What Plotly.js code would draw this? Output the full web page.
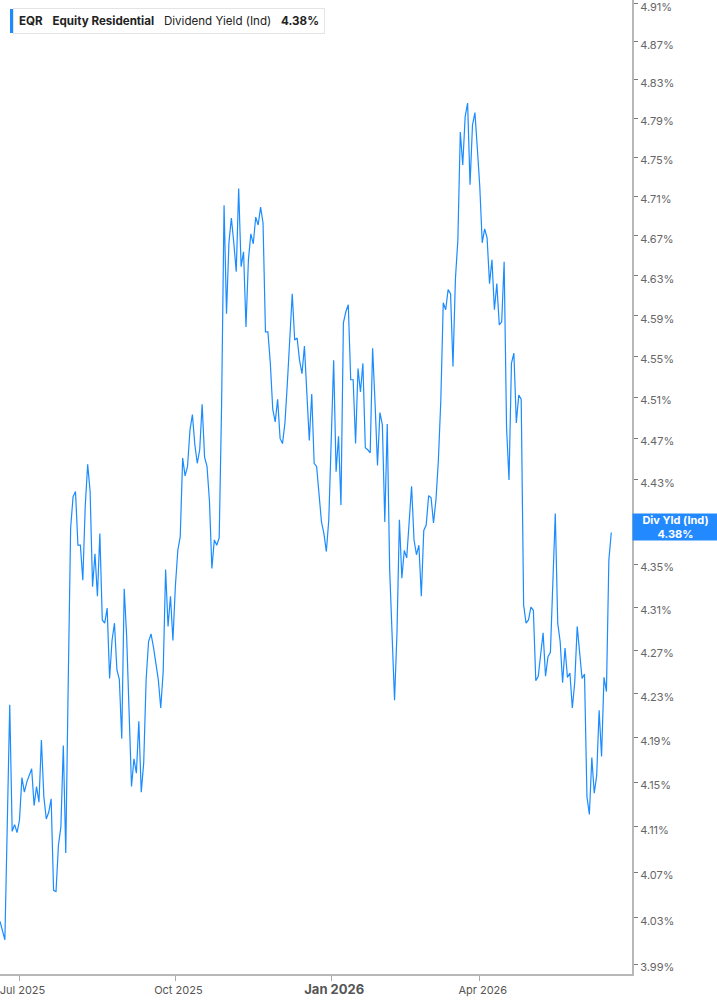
<!DOCTYPE html>
<html>
<head>
<meta charset="utf-8">
<script src="https://cdn.plot.ly/plotly-3.0.1.min.js"></script>
<style>html,body{margin:0;padding:0;background:#fff;}#chart{width:717px;height:1005px;}</style>
</head>
<body>
<div id="chart"></div>
<script>
// ---- data ----
const ticker = "EQR";
const companyName = "Equity Residential";
const seriesName = "Dividend Yield (Ind)";
const shortSeriesName = "Div Yld (Ind)";
const firstTradingDay = "2025-06-18";
const marketHolidays = ["2025-06-19","2025-07-04","2025-09-01","2025-11-27","2025-12-25",
  "2026-01-01","2026-01-19","2026-02-16","2026-04-03","2026-05-25","2026-06-19"];
const dividendYield = [
  4.027,4.019,4.011,4.114,4.220,4.106,4.112,4.105,4.116,4.154,
  4.141,4.150,4.156,4.162,4.129,4.146,4.132,4.188,4.137,4.117,
  4.123,4.135,4.054,4.053,4.094,4.110,4.183,4.087,4.238,4.384,
  4.414,4.419,4.368,4.368,4.335,4.405,4.445,4.419,4.329,4.360,
  4.320,4.379,4.298,4.295,4.309,4.244,4.279,4.295,4.252,4.243,
  4.189,4.327,4.283,4.212,4.146,4.171,4.158,4.205,4.141,4.167,
  4.243,4.278,4.285,4.273,4.258,4.243,4.217,4.250,4.345,4.292,
  4.320,4.279,4.329,4.363,4.376,4.451,4.434,4.443,4.478,4.493,
  4.464,4.446,4.459,4.503,4.452,4.443,4.410,4.346,4.373,4.368,
  4.375,4.504,4.701,4.592,4.663,4.688,4.663,4.634,4.718,4.639,
  4.654,4.579,4.646,4.672,4.662,4.689,4.681,4.699,4.683,4.574,
  4.574,4.543,4.498,4.486,4.508,4.470,4.465,4.485,4.524,4.569,
  4.612,4.566,4.568,4.546,4.533,4.560,4.510,4.468,4.513,4.446,
  4.443,4.417,4.390,4.379,4.362,4.392,4.462,4.546,4.438,4.472,
  4.406,4.583,4.594,4.601,4.527,4.527,4.465,4.538,4.515,4.543,
  4.461,4.459,4.456,4.558,4.504,4.444,4.495,4.483,4.390,4.484,
  4.345,4.292,4.224,4.286,4.392,4.337,4.363,4.356,4.392,4.424,
  4.373,4.359,4.368,4.320,4.382,4.387,4.415,4.413,4.389,4.411,
  4.449,4.507,4.603,4.596,4.616,4.612,4.540,4.627,4.666,4.776,
  4.742,4.792,4.806,4.722,4.783,4.796,4.759,4.720,4.663,4.677,
  4.668,4.622,4.646,4.596,4.622,4.581,4.584,4.644,4.480,4.430,
  4.543,4.553,4.485,4.512,4.508,4.312,4.295,4.298,4.310,4.307,
  4.242,4.246,4.266,4.286,4.246,4.264,4.268,4.326,4.398,4.295,
  4.278,4.240,4.272,4.245,4.249,4.217,4.241,4.292,4.270,4.244,
  4.248,4.137,4.121,4.172,4.140,4.156,4.215,4.173,4.245,4.232,
  4.354,4.380
];
// 4.39% sits under the last-value label in the reference, so it carries no text
const yTickValues = [4.91,4.87,4.83,4.79,4.75,4.71,4.67,4.63,4.59,4.55,4.51,4.47,4.43,4.39,
  4.35,4.31,4.27,4.23,4.19,4.15,4.11,4.07,4.03,3.99];
const yTickLabels = ["4.91%","4.87%","4.83%","4.79%","4.75%","4.71%","4.67%","4.63%","4.59%","4.55%",
  "4.51%","4.47%","4.43%","","4.35%","4.31%","4.27%","4.23%","4.19%","4.15%","4.11%","4.07%","4.03%","3.99%"];
const xTickDates = ["2025-07-01","2025-10-01","2026-01-02","2026-04-01"];
const xTickLabels = ["Jul 2025","Oct 2025","<b><span style='font-size:13px'>Jan 2026</span></b>","Apr 2026"];
const xRange = ["2025-06-18","2026-07-01 12:00"];
const yRange = [3.9814, 4.9142];

// ---- trading-day dates (weekdays that are not market holidays) ----
function tradingDays(start, n, holidays) {
  const out = [];
  const d = new Date(start + "T00:00:00Z");
  while (out.length < n) {
    const dow = d.getUTCDay();
    const s = d.toISOString().slice(0, 10);
    if (dow !== 0 && dow !== 6 && holidays.indexOf(s) < 0) out.push(s);
    d.setUTCDate(d.getUTCDate() + 1);
  }
  return out;
}
const dates = tradingDays(firstTradingDay, dividendYield.length, marketHolidays);
const lastVal = dividendYield[dividendYield.length - 1];
const lineBlue = "#1a8cff";
const labelBlue = "#2389ff";
const fontFam = "Inter, Roboto, sans-serif";

const trace = {
  x: dates, y: dividendYield, type: "scatter", mode: "lines",
  line: { color: lineBlue, width: 1.2 }, hoverinfo: "skip"
};

const sp = "\u00a0\u00a0";
const layout = {
  width: 717, height: 1005,
  margin: { l: 0, r: 85, t: 0, b: 31, pad: 0 },
  paper_bgcolor: "#ffffff", plot_bgcolor: "#ffffff",
  showlegend: false,
  font: { family: fontFam },
  xaxis: {
    type: "date", range: xRange,
    rangebreaks: [{ bounds: ["sat", "mon"] }, { values: marketHolidays }],
    tickmode: "array", tickvals: xTickDates, ticktext: xTickLabels,
    ticks: "outside", ticklen: 5, tickwidth: 1, tickcolor: "#aaaaaa",
    ticklabeloverflow: "allow", ticklabelshift: 3,
    showline: true, linecolor: "#b8b8b8", linewidth: 2,
    showgrid: false, zeroline: false,
    tickfont: { family: fontFam, size: 11, color: "#555555" }
  },
  yaxis: {
    type: "log", side: "right",
    range: [Math.log10(yRange[0]), Math.log10(yRange[1])],
    tickmode: "array", tickvals: yTickValues, ticktext: yTickLabels,
    ticks: "outside", ticklen: 4, tickwidth: 1, tickcolor: "#777777",
    ticklabeloverflow: "allow", ticklabelshift: 3,
    showline: true, linecolor: "#b8b8b8", linewidth: 2,
    showgrid: false, zeroline: false,
    tickfont: { family: fontFam, size: 11, color: "#666666" }
  },
  annotations: [
    {
      xref: "paper", yref: "paper", x: 13 / 632, y: 1 - 8 / 974,
      xanchor: "left", yanchor: "top", showarrow: false,
      text: "<b>" + ticker + "</b>" + sp + " <b>" + companyName + "</b>" + sp + " " + seriesName + sp + " <b>" + lastVal.toFixed(2) + "%</b>",
      font: { family: fontFam, size: 11.6, color: "#222222" },
      bgcolor: "#ffffff", bordercolor: "#e4e4e4", borderwidth: 1, borderpad: 5
    },
    {
      xref: "paper", yref: "y", x: 1, y: Math.log10(lastVal),
      xanchor: "left", yanchor: "middle", yshift: 6, showarrow: false,
      text: "<b>" + shortSeriesName + "</b><br><b>" + lastVal.toFixed(2) + "%</b>",
      font: { family: fontFam, size: 11, color: "#ffffff" },
      bgcolor: labelBlue, borderpad: 1, width: 83, height: 24, align: "center"
    }
  ],
  shapes: [
    {
      type: "rect", xref: "paper", yref: "paper",
      x0: 10 / 632, x1: 13 / 632, y0: 1 - 33 / 974, y1: 1 - 9 / 974,
      fillcolor: lineBlue, line: { width: 0 }
    }
  ]
};

Plotly.newPlot("chart", [trace], layout, { displayModeBar: false, responsive: false });
</script>
</body>
</html>
